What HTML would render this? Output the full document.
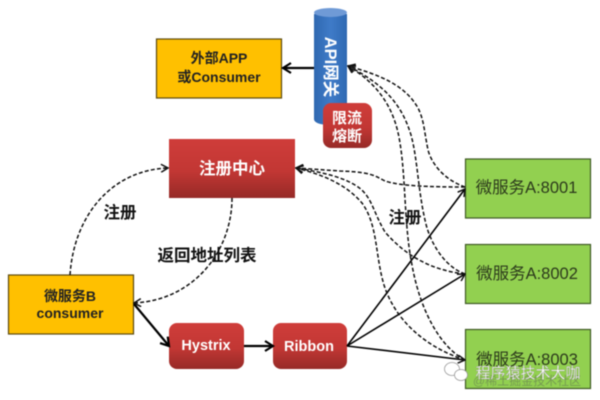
<!DOCTYPE html>
<html>
<head>
<meta charset="utf-8">
<style>
html,body{margin:0;padding:0;background:#fff;width:600px;height:400px;overflow:hidden}
svg{display:block;filter:blur(.5px)}
text{font-family:"Liberation Sans","Noto Sans CJK SC",sans-serif;text-anchor:middle}
</style>
</head>
<body>
<svg width="600" height="400" viewBox="0 0 600 400" xmlns="http://www.w3.org/2000/svg">
<defs>
<linearGradient id="red" x1="0" y1="0" x2="0" y2="1"><stop offset="0" stop-color="#cf3d3a"/><stop offset=".55" stop-color="#c23734"/><stop offset="1" stop-color="#962a27"/></linearGradient>
<linearGradient id="blue" x1="0" y1="0" x2="1" y2="0"><stop offset="0" stop-color="#2f68b0"/><stop offset=".5" stop-color="#3f7bc8"/><stop offset="1" stop-color="#2f69b2"/></linearGradient>
<marker id="o" markerWidth="9" markerHeight="9" refX="8" refY="4.5" orient="auto" markerUnits="userSpaceOnUse"><path d="M1 .5L8 4.5L1 8.5" fill="none" stroke="#111" stroke-width="1.5"/></marker>
<marker id="O" markerWidth="12" markerHeight="12" refX="10" refY="6" orient="auto" markerUnits="userSpaceOnUse"><path d="M2 1L10 6L2 11" fill="none" stroke="#000" stroke-width="2.2"/></marker>
</defs>

<!-- yellow boxes -->
<rect x="156.500" y="39" width="125" height="59" fill="#ffc000" stroke="#5c4a10" stroke-width="1.200"/>
<rect x="8.500" y="275" width="125" height="59" fill="#ffc000" stroke="#5c4a10" stroke-width="1.200"/>

<!-- cylinder -->
<path d="M314 14V119C314 123 321 125 330.500 125S347 123 347 119V14Z" fill="url(#blue)"/>
<ellipse cx="330.500" cy="12.500" rx="16.500" ry="4.500" fill="#6f9ad6"/>

<!-- red boxes -->
<rect x="323" y="103" width="49" height="45" rx="8" fill="url(#red)"/>
<rect x="169" y="139" width="126" height="59" fill="url(#red)"/>
<rect x="169" y="323" width="75" height="46" rx="8" fill="url(#red)"/>
<rect x="273" y="323" width="74" height="46" rx="8" fill="url(#red)"/>

<!-- green boxes -->
<rect x="465.500" y="159" width="125" height="59" fill="#92d050" stroke="#3f5a25" stroke-width="1.200"/>
<rect x="465.500" y="244.500" width="125" height="59" fill="#92d050" stroke="#3f5a25" stroke-width="1.200"/>
<rect x="465.500" y="329.500" width="125" height="59" fill="#92d050" stroke="#3f5a25" stroke-width="1.200"/>

<!-- solid connectors -->
<g fill="none" stroke="#000">
<path d="M314 68H283" stroke-width="2.200" marker-end="url(#O)"/>
<path d="M134 304L169 346" stroke-width="2.200" marker-end="url(#O)"/>
<path d="M244 346H273" stroke-width="2.200" marker-end="url(#O)"/>
<path d="M347 346L465 189" stroke-width="1.600" marker-end="url(#o)"/>
<path d="M347 346L465 274" stroke-width="1.600" marker-end="url(#o)"/>
<path d="M347 346L465 360" stroke-width="1.600" marker-end="url(#o)"/>
</g>

<!-- dashed connectors -->
<g fill="none" stroke="#111" stroke-width="1.500" stroke-dasharray="4 2.200">
<path d="M70 275C74 215 112 170 168 168" marker-end="url(#o)"/>
<path d="M232 198C232 250 195 300 134 303" marker-end="url(#o)"/>
<path d="M465 187C445 180 432 165 428 150C424 130 424 120 418 108C405 85 380 75 348 66" marker-end="url(#o)"/>
<path d="M465 274C448 268 434 250 427 228C418 195 418 160 411 135C402 105 385 85 348 66" marker-end="url(#o)"/>
<path d="M465 360C440 347 420 310 412 265C404 225 406 180 400 143C395 110 380 85 348 66" marker-end="url(#o)"/>
<path d="M465 187C430 187 400 186 385 181C375 176 372 172 340 171L296 168" marker-end="url(#o)"/>
<path d="M465 274C430 270 405 255 385 232C372 210 372 195 355 185C340 176 320 172 296 168" marker-end="url(#o)"/>
<path d="M465 360C425 347 395 320 384 285C375 255 378 225 362 203C345 183 320 174 296 168" marker-end="url(#o)"/>
</g>

<!-- labels -->
<text x="219" y="63" font-size="14" fill="#222" font-weight="700">外部APP</text>
<text x="219" y="82" font-size="14" fill="#222" font-weight="700">或Consumer</text>
<text x="70" y="301" font-size="14" fill="#222" font-weight="700">微服务B</text>
<text x="70" y="318" font-size="14" fill="#222" font-weight="700">consumer</text>
<text x="232" y="174" font-size="16.500" fill="#fff" font-weight="700">注册中心</text>
<text x="206" y="350" font-size="14.500" fill="#fff" font-weight="700">Hystrix</text>
<text x="309" y="351" font-size="14.500" fill="#fff" font-weight="700">Ribbon</text>
<text x="347" y="123" font-size="15" fill="#fff" font-weight="700">限流</text>
<text x="347" y="141" font-size="15" fill="#fff" font-weight="700">熔断</text>
<text transform="translate(325 67) rotate(90)" font-size="16.500" fill="#fff" font-weight="700">API网关</text>
<text x="120" y="218" font-size="16.500" fill="#111" font-weight="700">注册</text>
<text x="405" y="223" font-size="16.500" fill="#111" font-weight="700">注册</text>
<text x="207" y="261" font-size="16.500" fill="#111" font-weight="700">返回地址列表</text>
<text x="526.500" y="193" font-size="16.500" fill="#2c3a1c">微服务A:8001</text>
<text x="527" y="279" font-size="16.500" fill="#2c3a1c">微服务A:8002</text>
<text x="527" y="365" font-size="16.500" fill="#2c3a1c">微服务A:8003</text>

<!-- watermark -->
<text x="527" y="385" font-size="12" fill="#6c8a50" opacity=".75">@稀土掘金技术社区</text>
<text x="528" y="378" font-size="15" fill="#fff" stroke="#777" stroke-width=".25">程序猿技术大咖</text>
<g fill="#fff" stroke="#999" stroke-width=".8">
<ellipse cx="452" cy="369" rx="7.500" ry="6.500"/>
<ellipse cx="461" cy="375" rx="6.500" ry="5.500"/>
</g>
</svg>
</body>
</html>
